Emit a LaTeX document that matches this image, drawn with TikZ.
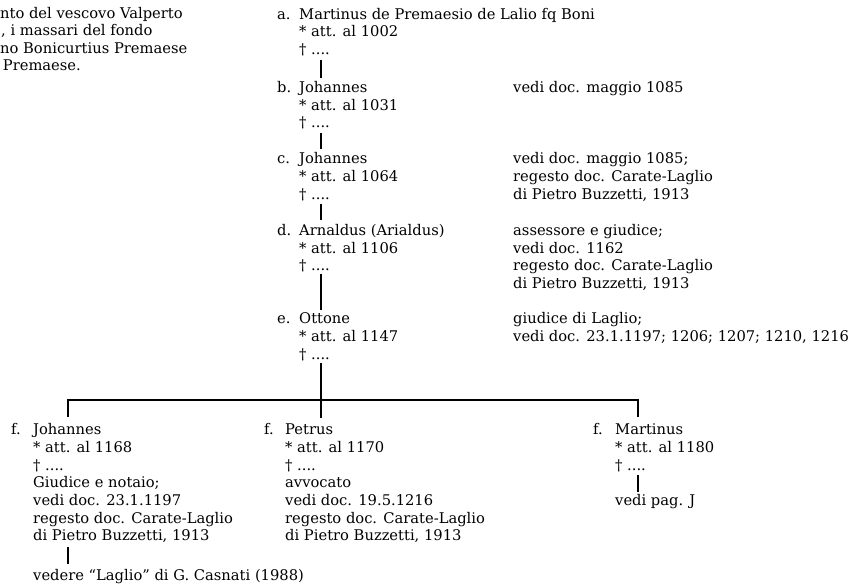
\documentclass[tikz,border=0pt]{standalone}
\usepackage{fontspec}
\setmainfont{DejaVu Serif}
\begin{document}
\begin{tikzpicture}[x=1pt,y=-1pt,
  txt/.style={anchor=base west, inner sep=0pt, font=\fontsize{14.7}{17.6}\selectfont},
  link/.style={line width=1.6pt}]
\useasboundingbox (0,0) rectangle (855,585);
\fill[white] (0,0) rectangle (855,585);
\clip (0,0) rectangle (855,585);
% top-left paragraph
\node[txt] (p1) at (0,18.3) {nto del vescovo Valperto};
\node[txt] (p2) at (1,36) {, i massari del fondo};
\node[txt] (p3) at (0,53.5) {no Bonicurtius Premaese};
\node[txt] (p4) at (2.7,71) {Premaese.};
% a
\node[txt] (la) at (277,19.3) {a.};
\node[txt] (a1) at (299,19.3) {Martinus de Premaesio de Lalio fq Boni};
\node[txt] (a2) at (299,37) {* att. al 1002};
\node[txt] (a3) at (299,55) {† ....};
% b
\node[txt] (lb) at (277,92.7) {b.};
\node[txt] (b1) at (299,92.7) {Johannes};
\node[txt] (b2) at (299,110.3) {* att. al 1031};
\node[txt] (b3) at (299,128) {† ....};
\node[txt] (rb1) at (513,92.7) {vedi doc. maggio 1085};
% c
\node[txt] (lc) at (277,164) {c.};
\node[txt] (c1) at (299,164) {Johannes};
\node[txt] (c2) at (299,181.7) {* att. al 1064};
\node[txt] (c3) at (299,199.3) {† ....};
\node[txt] (rc1) at (513,164) {vedi doc. maggio 1085;};
\node[txt] (rc2) at (513,181.7) {regesto doc. Carate-Laglio};
\node[txt] (rc3) at (513,199.3) {di Pietro Buzzetti, 1913};
% d
\node[txt] (ld) at (277,235.5) {d.};
\node[txt] (d1) at (299,235.5) {Arnaldus (Arialdus)};
\node[txt] (d2) at (299,253.1) {* att. al 1106};
\node[txt] (d3) at (299,270.7) {† ....};
\node[txt] (rd1) at (513,235.5) {assessore e giudice;};
\node[txt] (rd2) at (513,253.1) {vedi doc. 1162};
\node[txt] (rd3) at (513,270.7) {regesto doc. Carate-Laglio};
\node[txt] (rd4) at (513,288.3) {di Pietro Buzzetti, 1913};
% e
\node[txt] (le) at (277,324) {e.};
\node[txt] (e1) at (299,324) {Ottone};
\node[txt] (e2) at (299,341.6) {* att. al 1147};
\node[txt] (e3) at (299,359.2) {† ....};
\node[txt] (re1) at (513,324) {giudice di Laglio;};
\node[txt] (re2) at (513,341.6) {vedi doc. 23.1.1197; 1206; 1207; 1210, 1216};
% f left
\node[txt] (lf1) at (11,435) {f.};
\node[txt] (f11) at (33,435) {Johannes};
\node[txt] (f12) at (33,452.6) {* att. al 1168};
\node[txt] (f13) at (33,470.2) {† ....};
\node[txt] (f14) at (33,487.8) {Giudice e notaio;};
\node[txt] (f15) at (33,505.4) {vedi doc. 23.1.1197};
\node[txt] (f16) at (33,523) {regesto doc. Carate-Laglio};
\node[txt] (f17) at (33,540.6) {di Pietro Buzzetti, 1913};
\node[txt] (f18) at (33,580) {vedere “Laglio” di G. Casnati (1988)};
% f middle
\node[txt] (lf2) at (264,435) {f.};
\node[txt] (f21) at (285,435) {Petrus};
\node[txt] (f22) at (285,452.6) {* att. al 1170};
\node[txt] (f23) at (285,470.2) {† ....};
\node[txt] (f24) at (285,487.8) {avvocato};
\node[txt] (f25) at (285,505.4) {vedi doc. 19.5.1216};
\node[txt] (f26) at (285,523) {regesto doc. Carate-Laglio};
\node[txt] (f27) at (285,540.6) {di Pietro Buzzetti, 1913};
% f right
\node[txt] (lf3) at (593,435) {f.};
\node[txt] (f31) at (615,435) {Martinus};
\node[txt] (f32) at (615,452.6) {* att. al 1180};
\node[txt] (f33) at (615,470.2) {† ....};
\node[txt] (f34) at (615,505.4) {vedi pag. J};
% connector points
\coordinate (ab1) at (321,60);  \coordinate (ab2) at (321,78);
\coordinate (bc1) at (321,133); \coordinate (bc2) at (321,149);
\coordinate (cd1) at (321,204); \coordinate (cd2) at (321,220);
\coordinate (de1) at (321,274); \coordinate (de2) at (321,310);
\coordinate (ef1) at (321,363); \coordinate (ef2) at (321,418);
\coordinate (hl) at (68,400);   \coordinate (hr) at (638,400);
\coordinate (fl) at (68,417);   \coordinate (fr) at (638,417);
\coordinate (g1) at (68,547);   \coordinate (g2) at (68,564);
\coordinate (m1) at (638,475);  \coordinate (m2) at (638,492);
\draw[link] (ab1) -- (ab2);
\draw[link] (bc1) -- (bc2);
\draw[link] (cd1) -- (cd2);
\draw[link] (de1) -- (de2);
\draw[link] (ef1) -- (ef2);
\draw[link] (fl) -- (hl) -- (hr) -- (fr);
\draw[link] (g1) -- (g2);
\draw[link] (m1) -- (m2);
\end{tikzpicture}
\end{document}
